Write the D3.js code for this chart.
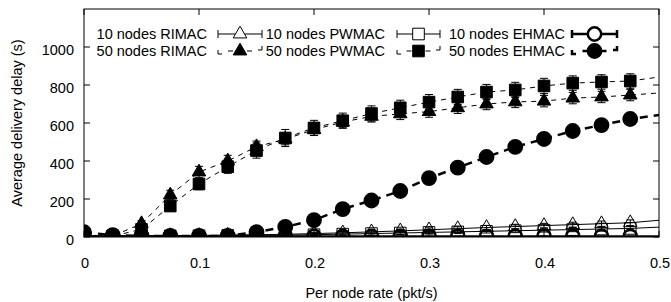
<!DOCTYPE html>
<html>
<head>
<meta charset="utf-8">
<script src="https://cdn.jsdelivr.net/npm/d3@7"></script>
<style>
  body { margin: 0; background: #fff; }
  text { font-family: "Liberation Sans", Arial, sans-serif; fill: #000; }
</style>
</head>
<body>
<div id="chart"></div>
<script>
// delay vs per-node rate, gnuplot style, 10 and 50 node runs for three MACs

const rates = [0, 0.025, 0.05, 0.075, 0.1, 0.125, 0.15, 0.175, 0.2, 0.225, 0.25,
               0.275, 0.3, 0.325, 0.35, 0.375, 0.4, 0.425, 0.45, 0.475, 0.5]

const rimac10 = [5, 5, 6, 7, 8, 10, 12, 14, 18, 22, 27, 32, 38, 44, 50, 55, 60, 65, 70, 75, 88]
const pwmac10 = [5, 5, 5, 6, 7, 8, 9, 10, 12, 15, 18, 21, 24, 27, 30, 33, 36, 39, 42, 45, 52]
const ehmac10 = [3, 3, 3, 3, 3, 3, 3, 3, 3, 3, 3, 3, 3, 3, 3, 3, 3, 3, 3, 3, 3]

const rimac50 = [10, 5, 70, 221, 342, 400, 475, 515, 565, 605, 635, 648, 660, 680, 700, 711, 715, 731, 737, 747, 758]
const pwmac50 = [10, 5, 40, 163, 279, 370, 455, 521, 574, 612, 650, 680, 710, 737, 763, 774, 795, 810, 816, 821, 842]
const ehmac50 = [25, 10, 6, 5, 5, 6, 26, 53, 89, 147, 192, 242, 310, 365, 421, 474, 516, 558, 589, 621, 642]

// half-width of the error bars
const rimac10Err = [2, 2, 2, 2, 3, 3, 4, 5, 6, 7, 8, 9, 10, 10, 11, 12, 12, 13, 14, 15, 15]
const pwmac10Err = [2, 2, 2, 2, 2, 3, 3, 4, 5, 6, 7, 8, 8, 9, 9, 10, 10, 11, 11, 12, 12]
const ehmac10Err = [1, 1, 1, 1, 1, 1, 1, 1, 1, 1, 1, 1, 1, 1, 1, 1, 1, 1, 1, 1, 1]
const rimac50Err = [4, 4, 15, 25, 30, 30, 30, 30, 30, 30, 30, 30, 30, 30, 30, 30, 30, 30, 30, 30, 30]
const pwmac50Err = [4, 4, 12, 25, 30, 35, 40, 45, 40, 40, 40, 40, 40, 40, 40, 40, 40, 38, 38, 38, 38]
const ehmac50Err = [3, 3, 3, 3, 3, 3, 5, 6, 8, 10, 10, 12, 14, 14, 14, 14, 14, 14, 14, 14, 14]

const xTicks = [0, 0.1, 0.2, 0.3, 0.4, 0.5]
const yTicks = [0, 200, 400, 600, 800, 1000]

const W = 671, H = 302
const plotL = 84, plotR = 659, plotT = 9, plotB = 237

const x = d3.scaleLinear().domain([0, 0.5]).range([plotL, plotR])
const y = d3.scaleLinear().domain([0, 1200]).range([plotB, plotT])

const svg = d3.select("#chart").append("svg")
  .attr("width", W).attr("height", H)

svg.append("defs").append("clipPath").attr("id", "plot")
  .append("rect")
  .attr("x", plotL).attr("y", plotT)
  .attr("width", plotR - plotL).attr("height", plotB - plotT)

const series = [
  { name: "10 nodes RIMAC", v: rimac10, e: rimac10Err, sym: d3.symbolTriangle, fill: false, dash: null, w: 1 },
  { name: "10 nodes PWMAC", v: pwmac10, e: pwmac10Err, sym: d3.symbolSquare, fill: false, dash: null, w: 1 },
  { name: "10 nodes EHMAC", v: ehmac10, e: ehmac10Err, sym: d3.symbolCircle, fill: false, dash: null, w: 2.5 },
  { name: "50 nodes RIMAC", v: rimac50, e: rimac50Err, sym: d3.symbolTriangle, fill: true, dash: "5,5", w: 1 },
  { name: "50 nodes PWMAC", v: pwmac50, e: pwmac50Err, sym: d3.symbolSquare, fill: true, dash: "5,5", w: 1 },
  { name: "50 nodes EHMAC", v: ehmac50, e: ehmac50Err, sym: d3.symbolCircle, fill: true, dash: "8,6", w: 2.5 }
]

const symSize = { triangle: 80, square: 135, circle: 140 }
function symPath(s) {
  const sz = s.sym === d3.symbolTriangle ? symSize.triangle
    : s.sym === d3.symbolSquare ? symSize.square : symSize.circle
  return d3.symbol().type(s.sym).size(sz)()
}

// frame
svg.append("rect")
  .attr("x", plotL).attr("y", plotT)
  .attr("width", plotR - plotL).attr("height", plotB - plotT)
  .attr("fill", "none").attr("stroke", "#000").attr("stroke-width", 1)

// ticks pointing inward on all four sides
const tickLen = 6
yTicks.forEach(t => {
  svg.append("line").attr("x1", plotL).attr("x2", plotL + tickLen)
    .attr("y1", y(t)).attr("y2", y(t)).attr("stroke", "#000")
  svg.append("line").attr("x1", plotR).attr("x2", plotR - tickLen)
    .attr("y1", y(t)).attr("y2", y(t)).attr("stroke", "#000")
  svg.append("text")
    .attr("x", plotL - 10).attr("y", y(t) + 8)
    .attr("text-anchor", "end")
    .style("font-size", "14.5px")
    .text(t)
})
xTicks.forEach(t => {
  svg.append("line").attr("x1", x(t)).attr("x2", x(t))
    .attr("y1", plotB).attr("y2", plotB - tickLen).attr("stroke", "#000")
  svg.append("line").attr("x1", x(t)).attr("x2", x(t))
    .attr("y1", plotT).attr("y2", plotT + tickLen).attr("stroke", "#000")
  svg.append("text")
    .attr("x", x(t) + 1).attr("y", 268)
    .attr("text-anchor", "middle")
    .style("font-size", "14.5px")
    .text(t)
})

// axis titles
svg.append("text")
  .attr("transform", `translate(22,${(plotT + plotB) / 2}) rotate(-90)`)
  .attr("text-anchor", "middle")
  .style("font-size", "14.5px")
  .text("Average delivery delay (s)")

svg.append("text")
  .attr("x", (plotL + plotR) / 2).attr("y", 298)
  .attr("text-anchor", "middle")
  .style("font-size", "14.5px")
  .text("Per node rate (pkt/s)")

const plot = svg.append("g").attr("clip-path", "url(#plot)")

const line = d3.line().x(d => x(d[0])).y(d => y(d[1]))

series.forEach(s => {
  const pts = rates.map((r, i) => [r, s.v[i], s.e[i]])
  plot.append("path")
    .attr("d", line(pts))
    .attr("fill", "none").attr("stroke", "#000")
    .attr("stroke-width", s.w)
    .attr("stroke-dasharray", s.dash)

  // markers only up to 0.475, the last value just carries the line to the edge
  const shown = pts.filter(d => d[0] < 0.5)
  const eb = plot.append("g")
  shown.forEach(d => {
    const cx = x(d[0]), y0 = y(d[1] - d[2]), y1 = y(d[1] + d[2])
    eb.append("path")
      .attr("d", `M${cx},${y0}V${y1}M${cx - 4},${y0}H${cx + 4}M${cx - 4},${y1}H${cx + 4}`)
      .attr("fill", "none").attr("stroke", "#000").attr("stroke-width", 1)
  })
  plot.append("g").selectAll("path")
    .data(shown)
    .join("path")
    .attr("d", symPath(s))
    .attr("transform", d => `translate(${x(d[0])},${y(d[1])})`)
    .attr("fill", s.fill ? "#000" : "none")
    .attr("stroke", "#000")
    .attr("stroke-width", s.sym === d3.symbolCircle ? 2.5 : 1)
})

// legend, two rows of three, text right aligned before each sample
const legCols = [
  { textEnd: 207, x1: 218, x2: 262 },
  { textEnd: 385, x1: 397, x2: 440 },
  { textEnd: 565, x1: 572, x2: 617 }
]
const legRows = [34, 51]

series.forEach((s, i) => {
  const c = legCols[i % 3], ly = legRows[Math.floor(i / 3)]
  const mx = (c.x1 + c.x2) / 2
  const g = svg.append("g")

  g.append("text")
    .attr("x", c.textEnd).attr("y", ly + 5)
    .attr("text-anchor", "end")
    .style("font-size", "14.5px")
    .text(s.name)

  if (!s.dash) {
    g.append("path")
      .attr("d", `M${c.x1},${ly}H${c.x2}M${c.x1},${ly - 4}V${ly + 4}M${c.x2},${ly - 4}V${ly + 4}`)
      .attr("fill", "none").attr("stroke", "#000").attr("stroke-width", s.w)
  } else {
    // dashed caps end up as small corner pieces
    g.append("path")
      .attr("d", `M${c.x1},${ly - 1}V${ly + 3}H${c.x1 + 4}M${c.x2 - 4},${ly - 1}H${c.x2}V${ly - 5}`)
      .attr("fill", "none").attr("stroke", "#000").attr("stroke-width", s.w)
    g.append("path")
      .attr("d", `M${mx - 12},${ly}H${mx + 12}`)
      .attr("fill", "none").attr("stroke", "#000").attr("stroke-width", s.w)
      .attr("stroke-dasharray", "5,14")
  }

  g.append("path")
    .attr("d", symPath(s))
    .attr("transform", `translate(${mx},${ly})`)
    .attr("fill", s.fill ? "#000" : "#fff")
    .attr("stroke", "#000")
    .attr("stroke-width", s.sym === d3.symbolCircle ? 2.5 : 1)
})
</script>
</body>
</html>
